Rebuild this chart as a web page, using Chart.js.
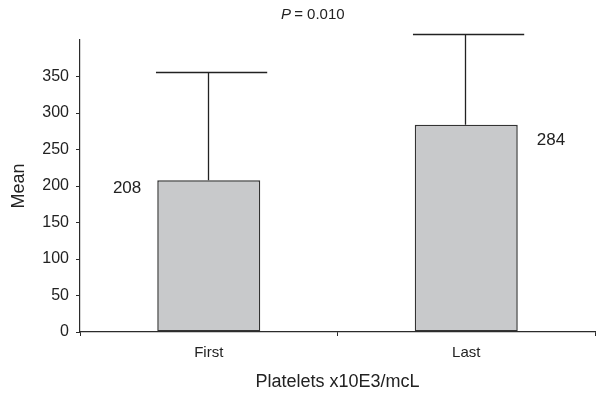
<!DOCTYPE html>
<html>
<head>
<meta charset="utf-8">
<script src="https://cdn.jsdelivr.net/npm/chart.js@4.4.1/dist/chart.umd.min.js"></script>
<style>
  html, body { margin: 0; padding: 0; background: #fff; }
  #wrap { width: 596px; height: 395px; }
</style>
</head>
<body>
<div id="wrap"><canvas id="chart" width="596" height="395"></canvas></div>
<script>
// data
const categories = ['First', 'Last'];
const means = [208, 284];
const sdUpper = [148, 124];
const yTicks = [0, 50, 100, 150, 200, 250, 300, 350];
const pText = '= 0.010';

const ink = '#2b2b2b';

// error bars (upper only) + value labels
const errorBars = {
    id: 'errorBars',
    afterDatasetsDraw(chart) {
        const ctx = chart.ctx;
        const y = chart.scales.y;
        const meta = chart.getDatasetMeta(0);
        ctx.save();
        ctx.strokeStyle = '#222';
        ctx.lineWidth = 1.3;
        meta.data.forEach((bar, i) => {
            const x = Math.round(bar.x) - 0.5;
            const top = y.getPixelForValue(means[i]);
            const end = Math.round(y.getPixelForValue(means[i] + sdUpper[i])) + 0.5;
            const bw = bar.width;
            ctx.beginPath();
            ctx.moveTo(x, top);
            ctx.lineTo(x, end);
            ctx.moveTo(x - bw * 0.51, end);
            ctx.lineTo(x + bw * 0.57, end);
            ctx.stroke();

            // value label beside the bar
            ctx.fillStyle = '#222';
            ctx.font = '17px Arial, "Liberation Sans", sans-serif';
            ctx.textBaseline = 'middle';
            if (i === 0) {
                ctx.textAlign = 'right';
                ctx.fillText(String(means[i]), bar.x - bw / 2 - 16, top + 8);
            } else {
                ctx.textAlign = 'left';
                ctx.fillText(String(means[i]), bar.x + bw / 2 + 19, top + 16);
            }
        });
        ctx.restore();
    }
};

// "P = 0.010" heading with italic P
const pTitle = {
    id: 'pTitle',
    afterDraw(chart) {
        const ctx = chart.ctx;
        ctx.save();
        ctx.fillStyle = '#222';
        ctx.textBaseline = 'middle';
        ctx.textAlign = 'left';
        ctx.font = 'italic 15px Arial, "Liberation Sans", sans-serif';
        const x0 = 281;
        ctx.fillText('P', x0, 15);
        const w = ctx.measureText('P ').width;
        ctx.font = '15px Arial, "Liberation Sans", sans-serif';
        ctx.fillText(pText, x0 + w - 1, 15);
        ctx.restore();
    }
};

new Chart(document.getElementById('chart'), {
    type: 'bar',
    data: {
        labels: categories,
        datasets: [{
            data: means,
            backgroundColor: '#c8c9cb',
            borderColor: '#333',
            borderWidth: 1.5,
            borderSkipped: false,
            categoryPercentage: 1,
            barPercentage: 0.4
        }]
    },
    options: {
        responsive: false,
        animation: false,
        layout: { padding: { left: 0, right: 1, top: 40, bottom: 0 } },
        plugins: { legend: { display: false }, tooltip: { enabled: false }, title: { display: false } },
        scales: {
            x: {
                grid: { display: true, drawOnChartArea: false, drawTicks: true, tickLength: 4, color: ink, offset: true },
                border: { display: true, color: ink, width: 1.2 },
                ticks: { color: '#222', padding: 8, font: { family: 'Arial, "Liberation Sans", sans-serif', size: 15 } },
                title: {
                    display: true, text: 'Platelets x10E3/mcL', color: '#222',
                    font: { family: 'Arial, "Liberation Sans", sans-serif', size: 18 },
                    padding: { top: 0, bottom: 2 }
                },
                afterFit(scale) { scale.height = 63; }
            },
            y: {
                min: 0, max: 400,
                afterBuildTicks(scale) { scale.ticks = yTicks.map(v => ({ value: v })); },
                grid: { display: true, drawOnChartArea: false, drawTicks: true, tickLength: 4, color: ink },
                border: { display: true, color: ink, width: 1.2 },
                ticks: { color: '#222', padding: 7, font: { family: 'Arial, "Liberation Sans", sans-serif', size: 16 } },
                title: {
                    display: true, text: 'Mean', color: '#222',
                    font: { family: 'Arial, "Liberation Sans", sans-serif', size: 18 },
                    padding: { top: 8, bottom: 0 }
                },
                afterFit(scale) { scale.width = 80; }
            }
        }
    },
    plugins: [errorBars, pTitle]
});
</script>
</body>
</html>
